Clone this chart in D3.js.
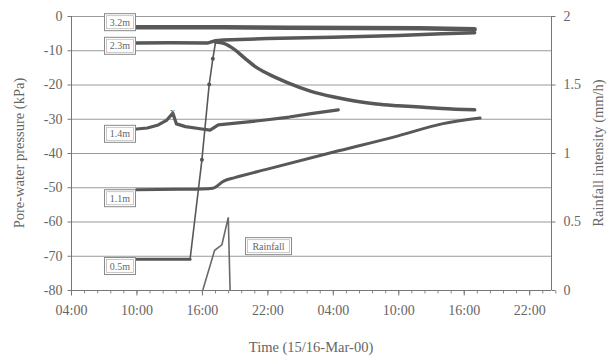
<!DOCTYPE html>
<html>

<head>
    <meta charset="utf-8">
    <title>
        Pore-water pressure
    </title>
    <script src="https://cdn.jsdelivr.net/npm/d3@7"></script>
    <style>
        body { margin: 0; background: #fff; }
        text { font-family: "Liberation Serif", serif; fill: #666; }
    </style>
</head>

<body>
    <svg></svg>
    <script>
        const width = 615;
        const height = 358;
        const padding = { top: 16, bottom: 68, left: 71, right: 64 };

        // time range and ticks
        const timeDomain = ["15 04:00", "17 00:00"];
        const timeTicks = ["15 04:00", "15 10:00", "15 16:00", "15 22:00", "16 04:00", "16 10:00", "16 16:00", "16 22:00"];
        const pressureTicks = [0, -10, -20, -30, -40, -50, -60, -70, -80];
        const rainTicks = [0, 0.5, 1, 1.5, 2];

        // pore-water pressure (kPa) by depth
        const depth32 = [["15 10:00", -3.3], ["15 14:00", -3.3], ["15 18:00", -3.3], ["16 00:00", -3.4], ["16 06:00", -3.5], ["16 12:00", -3.6], ["16 17:00", -3.9]];
        const depth23 = [["15 10:00", -7.9], ["15 13:00", -7.8], ["15 16:30", -7.9], ["15 17:15", -7.2], ["15 18:00", -7.0], ["15 22:00", -6.6], ["16 04:00", -6.2], ["16 10:00", -5.7], ["16 14:00", -5.2], ["16 17:00", -4.9]];
        const depth14 = [["15 10:00", -33], ["15 11:00", -32.7], ["15 12:00", -31.8], ["15 12:45", -30.5], ["15 13:20", -28.3], ["15 13:40", -31.5], ["15 14:30", -32.3], ["15 16:00", -33], ["15 16:45", -33.3], ["15 17:30", -31.8], ["15 20:00", -31], ["15 22:00", -30.3], ["16 00:00", -29.5], ["16 02:00", -28.5], ["16 04:30", -27.4]];
        const depth11 = [["15 10:00", -50.7], ["15 14:00", -50.6], ["15 16:00", -50.5], ["15 17:00", -50.3], ["15 18:00", -48.2], ["15 19:00", -47.2], ["15 22:00", -44.7], ["16 04:00", -39.8], ["16 10:00", -35], ["16 14:00", -31.5], ["16 17:30", -29.8]];
        const depth05 = [["15 10:00", -71], ["15 13:00", -71], ["15 14:55", -71], ["15 16:00", -42], ["15 16:40", -20], ["15 17:00", -12.5], ["15 17:15", -7.6], ["15 18:00", -8], ["15 19:00", -9.8], ["15 20:00", -12.5], ["15 21:00", -15], ["15 22:00", -16.8], ["15 23:00", -18.3], ["16 00:00", -19.7], ["16 02:00", -22], ["16 04:00", -23.6], ["16 06:00", -24.8], ["16 08:00", -25.7], ["16 10:00", -26.2], ["16 12:00", -26.6], ["16 14:00", -27], ["16 17:00", -27.4]];

        // rainfall intensity (mm/h)
        const rainfall = [["15 16:05", 0], ["15 17:10", 0.29], ["15 17:50", 0.33], ["15 18:25", 0.53], ["15 18:35", 0]];

        const seriesNames = ["3.2m", "2.3m", "1.4m", "1.1m", "0.5m"];

        const parseT = d3.timeParse("%d %H:%M");

        let svg = d3.select("svg")
            .attr("width", width)
            .attr("height", height);

        const w = width - padding.left - padding.right;
        const h = height - padding.top - padding.bottom;

        let g = svg.append("g")
            .attr("transform", "translate(" + padding.left + "," + padding.top + ")");

        let xScale = d3.scaleTime()
            .domain(timeDomain.map(parseT))
            .range([0, w]);

        let yScale = d3.scaleLinear()
            .domain([-80, 0])
            .range([h, 0]);

        let rScale = d3.scaleLinear()
            .domain([0, 2])
            .range([h, 0]);

        // gridlines
        g.append("g")
            .selectAll("line")
            .data(pressureTicks)
            .enter()
            .append("line")
            .attr("x1", 0)
            .attr("x2", w)
            .attr("y1", (d) => yScale(d) + 0.5)
            .attr("y2", (d) => yScale(d) + 0.5)
            .attr("stroke", "#9a9a9a")
            .attr("stroke-width", 1);

        // left axis
        let yAxis = d3.axisLeft(yScale)
            .tickValues(pressureTicks)
            .tickFormat((d) => String(d))
            .tickSize(4)
            .tickPadding(5);
        let ya = g.append("g").attr("transform", "translate(0.5,0)").call(yAxis);
        ya.select(".domain").attr("stroke", "#777").attr("d", "M0,0V" + h);
        ya.selectAll(".tick line").attr("stroke", "#777");
        ya.selectAll("text").attr("font-size", 14).style("font-family", "Liberation Serif").attr("fill", "#666");

        // right axis
        let rAxis = d3.axisRight(rScale)
            .tickValues(rainTicks)
            .tickFormat((d) => String(d))
            .tickSize(4)
            .tickPadding(8);
        let ra = g.append("g").attr("transform", "translate(" + (w + 0.5) + ",0)").call(rAxis);
        ra.select(".domain").attr("stroke", "#777").attr("d", "M0,0V" + h);
        ra.selectAll(".tick line").attr("stroke", "#777");
        ra.selectAll("text").attr("font-size", 14).style("font-family", "Liberation Serif").attr("fill", "#666");

        // bottom axis with minor ticks
        let minorTicks = d3.range(0, 45, 1.2).map((k) => new Date(xScale.domain()[0].getTime() + k * 3600000));
        g.append("g")
            .attr("transform", "translate(0," + (h + 0.5) + ")")
            .call(d3.axisBottom(xScale).tickValues(minorTicks).tickSize(3).tickFormat(""))
            .call((a) => a.select(".domain").remove())
            .selectAll("line").attr("stroke", "#888");

        let xAxis = d3.axisBottom(xScale)
            .tickValues(timeTicks.map(parseT))
            .tickFormat(d3.timeFormat("%H:%M"))
            .tickSize(5)
            .tickPadding(10);
        let xa = g.append("g").attr("transform", "translate(0," + (h + 0.5) + ")").call(xAxis);
        xa.select(".domain").attr("stroke", "#777").attr("d", "M0,0H" + w);
        xa.selectAll(".tick line").attr("stroke", "#777");
        xa.selectAll("text").attr("font-size", 14).style("font-family", "Liberation Serif").attr("fill", "#666");

        // pressure lines
        let linePath = d3.line()
            .x((d) => xScale(parseT(d[0])))
            .y((d) => yScale(d[1]));
        let smoothPath = d3.line()
            .x((d) => xScale(parseT(d[0])))
            .y((d) => yScale(d[1]))
            .curve(d3.curveMonotoneX);

        // thick parts, thin steep rise of 0.5m
        const pieces = [
            { d: depth32, sw: 4.5, smooth: false },
            { d: depth23, sw: 3.5, smooth: false },
            { d: depth14, sw: 3.2, smooth: false },
            { d: depth11, sw: 3, smooth: true },
            { d: depth05.slice(0, 3), sw: 3, smooth: false },
            { d: depth05.slice(2, 7), sw: 1.6, smooth: false },
            { d: depth05.slice(6), sw: 3.5, smooth: true }
        ];

        g.selectAll("path.series")
            .data(pieces)
            .enter()
            .append("path")
            .attr("class", "series")
            .attr("d", (p) => p.smooth ? smoothPath(p.d) : linePath(p.d))
            .attr("fill", "none")
            .attr("stroke", "#585858")
            .attr("stroke-linejoin", "round")
            .attr("stroke-linecap", "round")
            .attr("stroke-width", (p) => p.sw);

        // markers on the 0.5m rise
        g.selectAll("circle.rise")
            .data(depth05.slice(3, 6))
            .enter()
            .append("circle")
            .attr("class", "rise")
            .attr("cx", (d) => xScale(parseT(d[0])))
            .attr("cy", (d) => yScale(d[1]))
            .attr("r", 2)
            .attr("fill", "#555");

        // peak marker on 1.4m
        let peak = depth14[4];
        g.append("text")
            .attr("x", xScale(parseT(peak[0])))
            .attr("y", yScale(peak[1]) + 2)
            .attr("text-anchor", "middle")
            .attr("font-size", 11)
            .attr("fill", "#555")
            .text("x");

        // rainfall line
        g.append("path")
            .attr("d", d3.line().x((d) => xScale(parseT(d[0]))).y((d) => rScale(d[1]))(rainfall))
            .attr("fill", "none")
            .attr("stroke", "#6a6a6a")
            .attr("stroke-width", 1.6);

        // label boxes
        const labelY = [-1.8, -8.7, -34.4, -53.2, -73.0];
        const boxes = seriesNames.map((n, i) => ({ name: n, x: 33, y: yScale(labelY[i]) }));
        boxes.push({ name: "Rainfall", x: 174, y: rScale(0.32) });

        let lb = g.selectAll("g.lbl")
            .data(boxes)
            .enter()
            .append("g")
            .attr("class", "lbl")
            .attr("transform", (d) => "translate(" + d.x + "," + d.y + ")");
        lb.append("rect")
            .attr("x", 0.5)
            .attr("y", -8.5)
            .attr("width", (d) => d.name.length > 4 ? 46 : 31)
            .attr("height", 17)
            .attr("fill", "#fff")
            .attr("stroke", "#8a8a8a")
            .attr("stroke-width", 1);
        lb.append("rect")
            .attr("x", 2.5)
            .attr("y", -6.5)
            .attr("width", (d) => d.name.length > 4 ? 42 : 27)
            .attr("height", 13)
            .attr("fill", "none")
            .attr("stroke", "#bbb")
            .attr("stroke-width", 0.8);
        lb.append("text")
            .attr("x", (d) => d.name.length > 4 ? 23.5 : 16)
            .attr("y", 3.5)
            .attr("text-anchor", "middle")
            .attr("font-size", 10)
            .text((d) => d.name);

        // axis titles
        svg.append("text")
            .attr("transform", "translate(24," + (padding.top + h / 2) + ") rotate(-90)")
            .attr("text-anchor", "middle")
            .attr("font-size", 14.5)
            .text("Pore-water pressure (kPa)");

        svg.append("text")
            .attr("transform", "translate(603," + (padding.top + h / 2) + ") rotate(-90)")
            .attr("text-anchor", "middle")
            .attr("font-size", 14.5)
            .text("Rainfall intensity (mm/h)");

        svg.append("text")
            .attr("x", 311)
            .attr("y", 352)
            .attr("text-anchor", "middle")
            .attr("font-size", 14.5)
            .text("Time (15/16-Mar-00)");
    </script>
</body>

</html>
